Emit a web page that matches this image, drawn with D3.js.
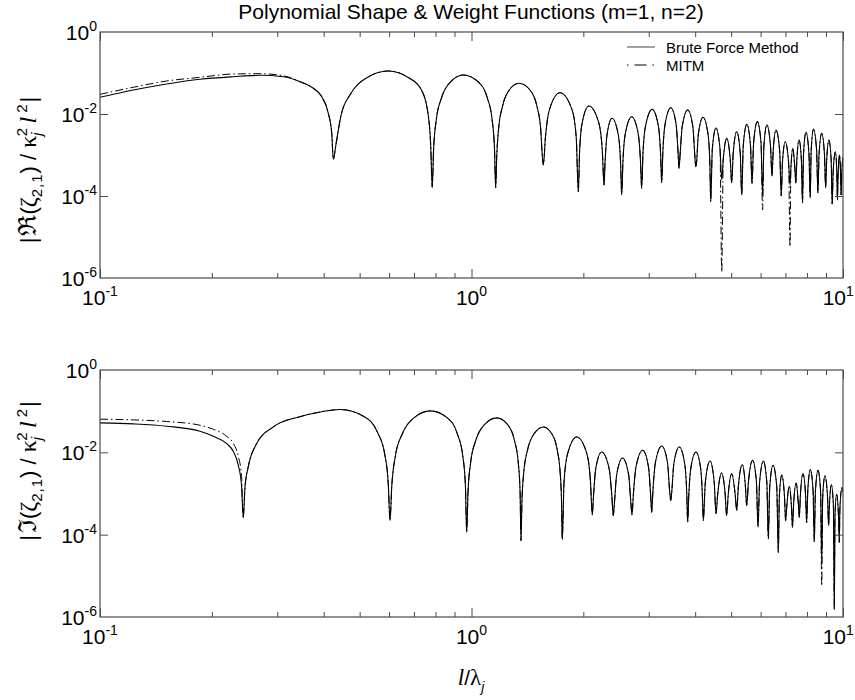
<!DOCTYPE html>
<html><head><meta charset="utf-8">
<script src="https://cdn.jsdelivr.net/npm/d3@7/dist/d3.min.js"></script>
<style>
body{margin:0;background:#fff;}
svg{font-family:"Liberation Sans", Arial, Helvetica, sans-serif;}
</style></head><body>
<svg id="chart" width="855" height="700"></svg>
<script>
// ---------------- data ----------------
const titleText = "Polynomial Shape & Weight Functions (m=1, n=2)";
const seriesNames = ["Brute Force Method", "MITM"];
const xMajorTicks = [0.1, 1, 10];
const xMinorTicks = [0.2,0.3,0.4,0.5,0.6,0.7,0.8,0.9,2,3,4,5,6,7,8,9];
const yLabelTicks = [1, 1e-2, 1e-4, 1e-6];
const yInnerTicks = [1e-2, 1e-4];

// top panel: |Re(zeta_2,1)| / kappa^2 l^2  vs  l/lambda
const bruteTop = [
[0.1,0.0255],[0.1229,0.0385],[0.1512,0.0539],[0.1858,0.0702],[0.2284,0.0812],[0.2696,0.0879],[0.3113,0.0812],[0.3454,0.0614],[0.3752,0.0424],[0.3953,0.0264],[0.4117,0.0104],[0.4205,3.38e-3],[0.4246,7.85e-4],
[0.4315,1.76e-3],[0.4453,9.1e-3],[0.4729,0.0311],[0.5211,0.0756],[0.597,0.112],[0.6793,0.0756],[0.7316,0.04],[0.7616,0.012],[0.7765,1.76e-3],[0.784,1.63e-4],
[0.7907,1.4e-3],[0.804,7.27e-3],[0.8306,0.0249],[0.8772,0.0603],[0.9504,0.0894],[1.0434,0.0603],[1.1026,0.0249],[1.1364,7.27e-3],[1.1533,1.4e-3],[1.1618,1.59e-4],
[1.169,8.8e-4],[1.1834,4.56e-3],[1.2123,0.0156],[1.2627,0.0379],[1.342,0.0561],[1.4384,0.0379],[1.4997,0.0156],[1.5347,4.56e-3],[1.5522,8.8e-4],[1.561,5.7e-4],
[1.5813,2.69e-3],[1.6218,0.013],[1.73,0.0331],[1.8638,0.013],[1.9139,2.69e-3],[1.939,1.27e-4],
[1.9547,1.27e-3],[1.9862,6.14e-3],[2.07,0.01567],[2.2006,6.14e-3],[2.2495,1.27e-3],[2.274,1.85e-4],
[2.2879,6.4e-4],[2.3158,3.08e-3],[2.39,7.85e-3],[2.4841,3.08e-3],[2.5194,6.4e-4],[2.537,1.06e-4],
[2.5564,7.0e-4],[2.5953,3.37e-3],[2.699,8.6e-3],[2.8091,3.37e-3],[2.8504,7.0e-4],[2.871,1.54e-4],
[2.8943,1.06e-3],[2.9408,5.1e-3],[3.065,0.013],[3.184,5.1e-3],[3.2287,1.06e-3],[3.251,2.11e-4],
[3.2737,1.16e-3],[3.319,5.59e-3],[3.44,0.01425],[3.5546,5.59e-3],[3.5975,1.16e-3],[3.619,4.74e-4],
[3.643,1.02e-3],[3.691,4.91e-3],[3.819,0.01253],[3.9432,4.91e-3],[3.9897,1.02e-3],[4.013,5.19e-4],
[4.0354,6.7e-4],[4.0803,3.25e-3],[4.2,8.3e-3],[4.3312,3.25e-3],[4.3804,6.7e-4],[4.405,7.26e-5],
[4.4485,1.4e-3],[4.55,4.56e-3],[4.6662,1.4e-3],[4.716,2.46e-4],
[4.7604,7.8e-4],[4.864,2.55e-3],[4.9711,7.8e-4],[5.017,2.08e-4],
[5.0644,1.13e-3],[5.175,3.7e-3],[5.2891,1.13e-3],[5.338,1.06e-4],
[5.3896,1.71e-3],[5.51,5.6e-3],[5.636,1.71e-3],[5.69,2.04e-4],
[5.747,1.99e-3],[5.88,6.5e-3],[6.0165,1.99e-3],[6.075,1.06e-4],
[6.1245,1.65e-3],[6.24,5.4e-3],[6.38,1.65e-3],[6.44,3.08e-4],
[6.488,1.25e-3],[6.6,4.07e-3],[6.754,1.25e-3],[6.82,1.0e-4],
[6.871,6.5e-4],[6.99,2.11e-3],[7.1377,6.5e-4],[7.201,1.85e-4],
[7.2376,4.5e-4],[7.323,1.46e-3],[7.4224,4.5e-4],[7.465,2.08e-4],
[7.51,7.1e-4],[7.615,2.32e-3],[7.7305,7.1e-4],[7.78,6.75e-5],
[7.831,1.1e-3],[7.95,3.58e-3],[8.097,1.1e-3],[8.16,8.9e-5],
[8.211,1.3e-3],[8.33,4.24e-3],[8.491,1.3e-3],[8.56,1.18e-4],
[8.6212,1.03e-3],[8.764,3.38e-3],[8.9152,1.03e-3],[8.98,1.57e-4],
[9.0355,7.1e-4],[9.165,2.32e-3],[9.2945,7.1e-4],[9.35,6.38e-5],
[9.407,3.7e-4],[9.54,1.2e-3],[9.624,3.7e-4],[9.66,7.98e-5],
[9.699,3.1e-4],[9.79,1.0e-3],[9.853,3.1e-4],[9.88,1.06e-4],
[9.93,4e-4],[10,9e-4]
];
// MITM: own values where it departs from the brute-force curve
const mitmTopHead = [[0.1,0.0302],[0.1229,0.0448],[0.1512,0.0638],[0.1858,0.0785],[0.2284,0.0946],[0.2696,0.0962],[0.3113,0.0859],[0.3454,0.0614]];
const mitmTopNulls = [[4.716,1.4e-6],[6.075,4.56e-5],[7.201,5.8e-6]];

// bottom panel: |Im(zeta_2,1)| / kappa^2 l^2
const bruteBottom = [
[0.1,0.0519],[0.1229,0.049],[0.1512,0.0431],[0.1858,0.0325],[0.2018,0.0245],[0.2193,0.0163],[0.2284,0.0106],[0.2357,4.82e-3],[0.2404,1.57e-3],[0.243,2.55e-4],
[0.2456,1.4e-3],[0.2507,4.5e-3],[0.2641,0.0163],[0.2928,0.0414],[0.3454,0.0735],[0.3953,0.097],[0.4426,0.11],[0.5134,0.0743],[0.5584,0.0306],[0.5841,8.9e-3],[0.597,1.72e-3],[0.6034,2.19e-4],
[0.6103,1.59e-3],[0.624,8.26e-3],[0.6514,0.0282],[0.6995,0.0686],[0.775,0.1016],[0.8611,0.0686],[0.9159,0.0282],[0.9472,8.26e-3],[0.9629,1.59e-3],[0.9707,1.14e-4],
[0.9786,1.08e-3],[0.9945,5.59e-3],[1.0262,0.0191],[1.0817,0.0464],[1.169,0.0687],[1.2526,0.0464],[1.3058,0.0191],[1.3362,5.59e-3],[1.3514,1.08e-3],[1.359,7.14e-5],
[1.3671,6.5e-4],[1.3832,3.37e-3],[1.4156,0.0115],[1.4721,0.0279],[1.561,0.0414],[1.6464,0.0279],[1.7007,0.0115],[1.7317,3.37e-3],[1.7472,6.5e-4],[1.755,7.55e-5],
[1.7748,1.92e-3],[1.8144,9.25e-3],[1.92,0.0236],[2.0442,9.25e-3],[2.0907,1.92e-3],[2.114,3.02e-4],
[2.1291,8.26e-4],[2.1594,3.98e-3],[2.24,0.01016],[2.3475,3.98e-3],[2.3878,8.26e-4],[2.408,2.9e-4],
[2.425,5.9e-4],[2.4591,2.85e-3],[2.55,7.26e-3],[2.6486,2.85e-3],[2.6855,5.9e-4],[2.704,3.02e-4],
[2.7263,9.1e-4],[2.771,4.39e-3],[2.89,0.0112],[2.9956,4.39e-3],[3.0352,9.1e-4],[3.055,3.5e-4],
[3.0785,1.16e-3],[3.1256,5.59e-3],[3.251,0.01425],[3.37,5.59e-3],[3.4147,1.16e-3],[3.437,6.75e-4],
[3.4596,1.09e-3],[3.5047,5.28e-3],[3.625,0.01346],[3.7492,5.28e-3],[3.7957,1.09e-3],[3.819,2.0e-4],
[3.8431,8.26e-4],[3.8914,3.98e-3],[4.02,0.01016],[4.1397,3.98e-3],[4.1846,8.26e-4],[4.207,2.19e-4],
[4.2604,1.88e-3],[4.385,6.14e-3],[4.5012,1.88e-3],[4.551,3.25e-4],
[4.5993,9.6e-4],[4.712,3.13e-3],[4.817,9.6e-4],[4.862,2.9e-4],
[4.9085,9.2e-4],[5.017,3.02e-3],[5.1276,9.2e-4],[5.175,3.85e-4],
[5.2296,1.53e-3],[5.357,5.01e-3],[5.4606,1.53e-3],[5.505,5.1e-4],
[5.5668,1.95e-3],[5.711,6.38e-3],[5.8468,1.95e-3],[5.905,1.52e-4],
[5.9641,1.88e-3],[6.102,6.14e-3],[6.2364,1.88e-3],[6.294,7.85e-5],
[6.3501,1.47e-3],[6.481,4.82e-3],[6.6322,1.47e-3],[6.697,3.7e-5],
[6.7405,8.5e-4],[6.842,2.79e-3],[6.9575,8.5e-4],[7.007,2.19e-4],
[7.0541,4.6e-4],[7.164,1.5e-3],[7.2669,4.6e-4],[7.311,1.51e-4],
[7.3623,5.5e-4],[7.482,1.8e-3],[7.5835,5.5e-4],[7.627,2.64e-4],
[7.6798,9.2e-4],[7.803,3.02e-3],[7.9297,9.2e-4],[7.984,1.96e-4],
[8.0386,1.16e-3],[8.166,3.8e-3],[8.3081,1.16e-3],[8.369,6.75e-5],
[8.4278,1.11e-3],[8.565,3.64e-3],[8.7043,1.11e-3],[8.764,2.11e-5],
[8.8177,8.3e-4],[8.943,2.7e-3],[9.0851,8.3e-4],[9.146,1.66e-4],
[9.1925,5.1e-4],[9.301,1.66e-3],[9.4228,5.1e-4],[9.475,1.54e-6],
[9.5161,2.9e-4],[9.612,9.5e-4],[9.724,2.9e-4],[9.772,6.5e-5],
[9.81,4.3e-4],[9.94,1.4e-3],[10,1.1e-3]
];
const mitmBottomHead = [[0.1,0.0638],[0.1229,0.0614],[0.1512,0.0561],[0.1858,0.0456],[0.2018,0.0364],[0.2193,0.0245],[0.2284,0.0166],[0.2357,7.98e-3],[0.2404,2.75e-3],[0.243,2.55e-4]];
const mitmBottomNulls = [[8.764,5.7e-6]];

// ---------------- drawing ----------------
const W = 855;
const svg = d3.select("#chart");
const X0 = 100, X1 = 843;
const x = d3.scaleLog().domain([0.1, 10]).range([X0, X1]);
const frameColor = "#4a4a4a";

function buildMitm(brute, head, nulls) {
  const cut = head[head.length - 1][0];
  const m = new Map(nulls.map(d => [d[0], d[1]]));
  return head.concat(brute.filter(d => d[0] > cut).map(d => m.has(d[0]) ? [d[0], m.get(d[0])] : d));
}

function powLabel(sel, value, bigSize, smallSize) {
  const e = Math.round(Math.log10(value));
  sel.append("tspan").attr("font-size", bigSize).text("10");
  sel.append("tspan").attr("font-size", smallSize).attr("dy", -9).text(String(e));
}

const panels = [
  {top: 32, bottom: 278, brute: bruteTop, head: mitmTopHead, nulls: mitmTopNulls, sym: "\u211C", labelY: 170},
  {top: 370, bottom: 617, brute: bruteBottom, head: mitmBottomHead, nulls: mitmBottomNulls, sym: "\u2111", labelY: 471}
];

panels.forEach((p, i) => {
  const y = d3.scaleLog().domain([1e-6, 1]).range([p.bottom, p.top]);
  const g = svg.append("g");
  const clipId = "clip" + i;
  svg.append("clipPath").attr("id", clipId).append("rect")
    .attr("x", X0).attr("y", p.top).attr("width", X1 - X0).attr("height", p.bottom - p.top);

  const line = d3.line().x(d => x(d[0])).y(d => y(d[1])).curve(d3.curveMonotoneX);
  g.append("path").datum(p.brute).attr("d", line)
    .attr("fill", "none").attr("stroke", "#000").attr("stroke-width", 1.1)
    .attr("clip-path", `url(#${clipId})`);
  g.append("path").datum(buildMitm(p.brute, p.head, p.nulls)).attr("d", line)
    .attr("fill", "none").attr("stroke", "#000").attr("stroke-width", 1)
    .attr("stroke-dasharray", "8,3,1.5,3")
    .attr("clip-path", `url(#${clipId})`);

  // ticks
  const styleAxis = a => { a.select(".domain").remove(); a.selectAll("line").attr("stroke", frameColor); };
  g.append("g").attr("transform", `translate(0,${p.bottom})`)
    .call(d3.axisBottom(x).tickValues(xMinorTicks).tickSize(-5).tickFormat("")).call(styleAxis);
  g.append("g").attr("transform", `translate(0,${p.top})`)
    .call(d3.axisTop(x).tickValues(xMinorTicks).tickSize(-5).tickFormat("")).call(styleAxis);
  g.append("g").attr("transform", `translate(0,${p.bottom})`)
    .call(d3.axisBottom(x).tickValues(xMajorTicks).tickSize(-9).tickFormat("")).call(styleAxis);
  g.append("g").attr("transform", `translate(0,${p.top})`)
    .call(d3.axisTop(x).tickValues(xMajorTicks).tickSize(-9).tickFormat("")).call(styleAxis);
  g.append("g").attr("transform", `translate(${X0},0)`)
    .call(d3.axisLeft(y).tickValues(yInnerTicks).tickSize(-8).tickFormat("")).call(styleAxis);
  g.append("g").attr("transform", `translate(${X1},0)`)
    .call(d3.axisRight(y).tickValues(yInnerTicks).tickSize(-8).tickFormat("")).call(styleAxis);

  // frame
  g.append("rect").attr("x", X0).attr("y", p.top).attr("width", X1 - X0).attr("height", p.bottom - p.top)
    .attr("fill", "none").attr("stroke", frameColor).attr("stroke-width", 1.2);

  // y tick labels
  yLabelTicks.forEach(v => {
    const t = g.append("text").attr("x", X0 - 3).attr("y", y(v) + 8).attr("text-anchor", "end").attr("fill", "#000");
    powLabel(t, v, 21, 14);
  });
  // x tick labels (kept inside the picture at the right edge)
  xMajorTicks.forEach(v => {
    const t = g.append("text").attr("x", x(v)).attr("y", p.bottom + 27).attr("text-anchor", "middle").attr("fill", "#000");
    powLabel(t, v, 21, 14);
    const bb = t.node().getBBox();
    if (bb.x + bb.width > W - 1) t.attr("x", x(v) - (bb.x + bb.width - (W - 1)));
  });

  // y axis title
  const yt = g.append("text").attr("transform", `translate(36,${p.labelY}) rotate(-90)`)
    .attr("text-anchor", "middle").attr("font-size", 22).attr("fill", "#000");
  yt.append("tspan").text("|");
  yt.append("tspan").attr("font-family", "DejaVu Serif").attr("font-size", 25).attr("dx", 2).text(p.sym);
  yt.append("tspan").text("(");
  yt.append("tspan").attr("font-family", "Liberation Serif").attr("font-size", 24).text("\u03B6");
  yt.append("tspan").attr("font-size", 15).attr("dy", 6).attr("letter-spacing", 1).text("2,1");
  yt.append("tspan").attr("dy", -6).text(")  /  ");
  yt.append("tspan").attr("font-family", "Liberation Serif").attr("font-size", 24).text("\u03BA");
  yt.append("tspan").attr("font-size", 15).attr("font-style", "italic").attr("dy", 6).text("j");
  yt.append("tspan").attr("font-size", 15).attr("dx", -4).attr("dy", -15).text("2");
  yt.append("tspan").attr("dy", 9).text("\u2009");
  yt.append("tspan").attr("font-family", "Liberation Serif").attr("font-style", "italic").attr("font-size", 24).text("l");
  yt.append("tspan").attr("font-size", 15).attr("dy", -9).text(" 2");
  yt.append("tspan").attr("dy", 9).attr("dx", 2).text("|");
});

// x axis title
const xt = svg.append("text").attr("x", 471).attr("y", 685).attr("text-anchor", "middle").attr("font-size", 21).attr("fill", "#000");
xt.append("tspan").attr("font-family", "Liberation Serif").attr("font-style", "italic").attr("font-size", 23).text("l");
xt.append("tspan").text("/");
xt.append("tspan").attr("font-family", "Liberation Serif").attr("font-size", 23).text("\u03BB");
xt.append("tspan").attr("font-size", 14).attr("font-style", "italic").attr("dy", 7).text("j");

// title
svg.append("text").attr("x", 471).attr("y", 19).attr("text-anchor", "middle")
  .attr("font-size", 21).attr("fill", "#000").text(titleText);

// legend
const leg = svg.append("g");
const legendRows = [{y: 47, dash: null}, {y: 65, dash: "1.5,6,12,6,1.5,40"}];
legendRows.forEach((r, k) => {
  leg.append("line").attr("x1", 627).attr("x2", 655).attr("y1", r.y).attr("y2", r.y)
    .attr("stroke", k === 0 ? "#555" : "#000").attr("stroke-width", 1.1)
    .attr("stroke-dasharray", r.dash);
  leg.append("text").attr("x", 666).attr("y", r.y + 5.5).attr("font-size", 15).attr("fill", "#000").text(seriesNames[k]);
});
</script>
</body></html>
